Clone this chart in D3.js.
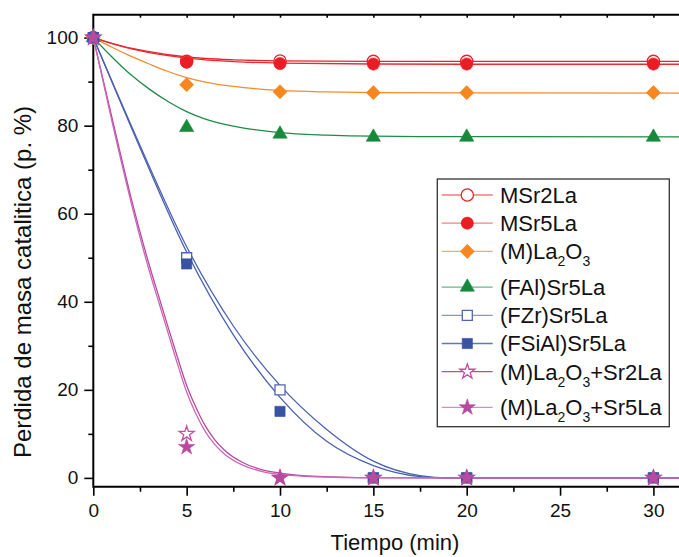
<!DOCTYPE html>
<html><head><meta charset="utf-8">
<script src="https://cdn.jsdelivr.net/npm/d3@7"></script>
<style>
html,body{margin:0;padding:0;background:#fff;}
svg{display:block;font-family:"Liberation Sans",Arial,sans-serif;}
</style></head>
<body><svg id="c" width="679" height="557"></svg>
<script>
// ---------- data ----------
const times = [0, 5, 10, 15, 20, 30];
const xTicks = [0, 5, 10, 15, 20, 25, 30];
const yTicks = [0, 20, 40, 60, 80, 100];

const MSr2La      = [100, 94.6, 94.7, 94.6, 94.6, 94.6];
const MSr5La      = [100, 94.4, 94.1, 94.0, 94.0, 94.0];
const MLa2O3      = [100, 89.3, 87.7, 87.5, 87.5, 87.5];
const FAlSr5La    = [100, 79.6, 78.1, 77.4, 77.4, 77.4];
const FZrSr5La    = [100, 50.0, 20.0, 0, 0, 0];
const FSiAlSr5La  = [100, 48.6, 15.1, 0, 0, 0];
const MLa2O3Sr2La = [100, 10.0, 0, 0, 0, 0];
const MLa2O3Sr5La = [100, 7.0, 0, 0, 0, 0];

// fitted curves as [time, value]
const fitMSr2La = [[0,100],[1,98.7],[2,97.6],[3,96.8],[4,96.1],[5,95.6],[6,95.25],[7.5,94.95],[10,94.72],[15,94.62],[20,94.6],[33,94.6]];
const fitMSr5La = [[0,100],[1,98.65],[2,97.5],[3,96.6],[4,95.9],[5,95.35],[6,94.95],[7.5,94.55],[10,94.2],[15,94.0],[20,93.95],[33,93.95]];
const fitMLa2O3 = [[0,100],[1,97.8],[2,95.8],[3,94.0],[4,92.3],[5,90.9],[6,89.9],[7.5,88.9],[10,88.0],[12.5,87.65],[15,87.5],[20,87.45],[33,87.4]];
const fitFAl    = [[0,100],[1,95.6],[2,91.6],[3,88.3],[4,85.5],[5,83.2],[6,81.5],[7.5,79.9],[10,78.4],[12.5,77.85],[15,77.6],[20,77.5],[33,77.45]];
const fitFZr    = [[0,100],[2.5,75.5],[5,52.5],[7.5,34.5],[10,21],[12.5,11],[15,3.8],[17.5,0.5],[19,0],[33,0]];
const fitFSiAl  = [[0,100],[2.5,75],[5,51.3],[7.5,32.5],[10,18.3],[12.5,8.3],[15,2.8],[17.5,0.3],[19,0],[33,0]];
const fitSr2La  = [[0,100],[1,81.8],[2,64],[3,48.3],[3.5,41.3],[4,34.3],[4.5,27.5],[5,21],[5.5,16],[6,11.8],[6.5,8.7],[7,6.4],[8,3.5],[9,1.9],[10,1.1],[12,0.35],[15,0.05],[18,0],[33,0]];
const fitSr5La  = [[0,100],[1,81],[2,63],[3,47],[3.5,40],[4,33],[4.5,26],[5,19.5],[5.5,14.5],[6,10.5],[6.5,7.6],[7,5.5],[8,2.9],[9,1.5],[10,0.8],[12,0.25],[15,0.03],[18,0],[33,0]];

const legendLabels = ["MSr2La","MSr5La","(M)La2O3","(FAl)Sr5La","(FZr)Sr5La","(FSiAl)Sr5La","(M)La2O3+Sr2La","(M)La2O3+Sr5La"];

// ---------- styles ----------
const series = [
  {name:legendLabels[0], vals:MSr2La, fit:fitMSr2La, color:"#e8242b", line:"#e8242b", leg:"#f07c7c", sym:d3.symbolCircle, size:118, open:true},
  {name:legendLabels[1], vals:MSr5La, fit:fitMSr5La, color:"#ec1c24", line:"#ea2a30", leg:"#f08282", sym:d3.symbolCircle, size:118, open:false},
  {name:legendLabels[2], vals:MLa2O3, fit:fitMLa2O3, color:"#f6871f", line:"#f68b2a", leg:"#f8ac68", sym:d3.symbolSquare, size:100, open:false, rot:45},
  {name:legendLabels[3], vals:FAlSr5La, fit:fitFAl, color:"#17893d", line:"#1f8c45", leg:"#6cb68a", sym:d3.symbolTriangle, size:88, open:false},
  {name:legendLabels[4], vals:FZrSr5La, fit:fitFZr, color:"#5166b2", line:"#4c62b2", leg:"#8796cd", sym:d3.symbolSquare, size:100, open:true},
  {name:legendLabels[5], vals:FSiAlSr5La, fit:fitFSiAl, color:"#3a52a3", line:"#4a60b0", leg:"#6276bc", sym:d3.symbolSquare, size:105, open:false},
  {name:legendLabels[6], vals:MLa2O3Sr2La, fit:fitSr2La, color:"#c04fa6", line:"#b8489e", leg:"#b8509f", sym:d3.symbolStar, size:70, open:true},
  {name:legendLabels[7], vals:MLa2O3Sr5La, fit:fitSr5La, color:"#b74a9e", line:"#cc66b6", leg:"#d48ec6", sym:d3.symbolStar, size:82, open:false}
];

// ---------- layout ----------
const svg = d3.select("#c");
const L = 93.3, R = 700.1, T = 14.7, B = 486.7;
const x = d3.scaleLinear().domain([0, 32.5]).range([L, R]);
const y = d3.scaleLinear().domain([-2, 105.2]).range([B, T]);

svg.append("defs").append("clipPath").attr("id","pc")
  .append("rect").attr("x",L).attr("y",T).attr("width",R-L).attr("height",B-T);

// axes
const minorX = d3.range(2.5, 32.5, 5);
const minorY = d3.range(10, 105, 20);
function styleAxis(g){ g.select(".domain").remove(); g.selectAll("line").attr("stroke","#000").attr("stroke-width",1.6); g.selectAll("text").attr("fill","#111"); }

svg.append("g").attr("transform",`translate(0,${B})`)
  .call(d3.axisBottom(x).tickValues(xTicks).tickSize(9).tickPadding(8).tickFormat(d3.format("d")))
  .call(styleAxis).selectAll("text").attr("font-size",19).attr("font-family","Liberation Sans, Arial, sans-serif");
svg.append("g").attr("transform",`translate(0,${B})`)
  .call(d3.axisBottom(x).tickValues(minorX).tickSize(5).tickFormat(""))
  .call(styleAxis);
svg.append("g").attr("transform",`translate(0,${T})`)
  .call(d3.axisBottom(x).tickValues(d3.range(2.5, 32.5, 2.5)).tickSize(3).tickFormat(""))
  .call(styleAxis);
svg.append("g").attr("transform",`translate(${L},0)`)
  .call(d3.axisLeft(y).tickValues(yTicks).tickSize(9).tickPadding(6).tickFormat(d3.format("d")))
  .call(styleAxis).selectAll("text").attr("font-size",19).attr("font-family","Liberation Sans, Arial, sans-serif");
svg.append("g").attr("transform",`translate(${L},0)`)
  .call(d3.axisLeft(y).tickValues(minorY).tickSize(5).tickFormat(""))
  .call(styleAxis);

// frame
svg.append("path").attr("d",`M${R},${T}H${L}V${B}H${R}`).attr("fill","none").attr("stroke","#000").attr("stroke-width",2);

// curves
const line = d3.line().x(d=>x(d[0])).y(d=>y(d[1])).curve(d3.curveMonotoneX);
const gc = svg.append("g").attr("clip-path","url(#pc)");
series.forEach(s=>{
  gc.append("path").attr("d",line(s.fit)).attr("fill","none").attr("stroke",s.line).attr("stroke-width",1.3);
});

// markers
function drawMarker(g, s, px, py){
  const p = g.append("path").attr("d", d3.symbol().type(s.sym).size(s.size)())
    .attr("transform",`translate(${px},${py})${s.rot?` rotate(${s.rot})`:""}`);
  if(s.open) p.attr("fill","#fff").attr("stroke",s.color).attr("stroke-width",1.3);
  else p.attr("fill",s.color).attr("stroke",s.color).attr("stroke-width",0.6);
}
const gm = svg.append("g");
series.forEach(s=>{
  s.vals.forEach((v,i)=>drawMarker(gm, s, x(times[i]), y(v)));
});

// legend
const lg = svg.append("g");
lg.append("rect").attr("x",437.3).attr("y",179).attr("width",232).attr("height",247.7)
  .attr("fill","#fff").attr("stroke","#333").attr("stroke-width",1.3);
let extra = 0;
series.forEach((s,i)=>{
  const cy = 195 + i*28.2 + extra;
  lg.append("line").attr("x1",441.7).attr("x2",492.7).attr("y1",cy).attr("y2",cy)
    .attr("stroke",s.leg).attr("stroke-width",1.3);
  drawMarker(lg, s, 467.3, cy);
  const t = lg.append("text").attr("x",500).attr("y",cy+7.8).attr("font-size",22).attr("fill","#111");
  const m = s.name.match(/^(.*La)2O3(.*)$/);
  if(m){
    t.append("tspan").text(m[1]);
    t.append("tspan").attr("dy",7).attr("font-size",14).text("2");
    t.append("tspan").attr("dy",-7).text("O");
    t.append("tspan").attr("dy",7).attr("font-size",14).text("3");
    if(m[2]) t.append("tspan").attr("dy",-7).text(m[2]);
    extra += 7.5;
  } else t.text(s.name);
});

// axis titles
svg.append("text").attr("x",395).attr("y",550).attr("text-anchor","middle")
  .attr("font-size",22).attr("fill","#111").text("Tiempo (min)");
svg.append("text").attr("transform","translate(31,282) rotate(-90)").attr("text-anchor","middle")
  .attr("font-size",24).attr("fill","#111").text("Perdida de masa catalitica (p. %)");
</script></body></html>
